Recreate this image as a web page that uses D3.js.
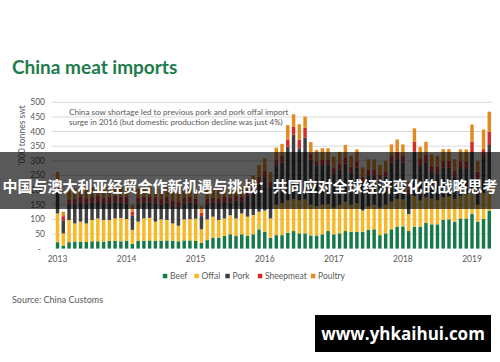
<!DOCTYPE html>
<html>
<head>
<meta charset="utf-8">
<script src="https://cdn.jsdelivr.net/npm/d3@7"></script>
<style>
  body { margin: 0; background: #fff; }
  svg { display: block; }
</style>
</head>
<body>
<div id="chart"></div>
<script>
// monthly imports, '000 tonnes swt, Jan 2013 - Apr 2019
const months = d3.timeMonths(new Date(2013, 0, 1), new Date(2019, 4, 1));
const years = ["2013", "2014", "2015", "2016", "2017", "2018", "2019"];
const seriesNames = ["Beef", "Offal", "Pork", "Sheepmeat", "Poultry"];
const seriesColors = ["#17794a", "#f7b927", "#3f3f3f", "#cf2c2a", "#e28a20"];
const yTicks = [0, 50, 100, 150, 200, 250, 300, 350, 400, 450, 500];

const beef = [22,10,22,24,24,23,25,25,24,26,26,25,27,16,26,27,28,26,27,28,27,25,28,28,
  26,20,29,37,37,43,49,43,49,43,49,66,58,37,46,46,54,60,52,52,45,45,49,60,49,
  52,60,57,57,57,64,66,46,52,66,75,76,60,75,75,88,83,83,98,100,92,103,103,118,92,101,130];
const offal = [98,42,76,62,68,63,73,78,74,72,77,80,74,48,66,76,77,66,73,70,59,53,72,73,
  76,46,71,72,61,60,65,60,71,66,66,60,72,66,104,109,111,110,113,116,105,100,101,92,91,
  98,100,93,98,73,81,84,94,98,94,95,92,58,105,90,87,87,82,77,78,78,77,82,72,58,89,80];
const pork = [84,45,52,65,64,67,58,56,54,57,55,52,53,48,61,53,53,61,50,59,61,65,54,56,
  50,45,53,47,55,57,43,61,40,70,77,97,114,108,135,139,183,220,178,211,154,136,135,133,118,
  121,130,109,122,100,106,101,95,96,134,137,126,68,151,117,120,92,92,101,98,75,95,90,140,90,126,144];
const sheepmeat = [20,14,18,20,20,19,20,21,20,21,22,21,22,15,20,21,21,20,19,20,18,17,19,20,
  18,12,17,18,17,18,17,18,18,20,20,22,22,16,20,22,25,26,30,34,20,18,18,18,18,
  20,22,20,22,16,18,18,17,18,22,24,22,14,34,24,26,22,22,24,24,22,24,24,36,22,24,45];
const poultry = [38,15,32,34,34,33,34,35,33,34,35,34,34,22,32,33,33,32,31,33,30,30,32,33,
  30,22,30,31,30,32,31,33,32,36,38,40,42,35,40,42,49,43,52,38,40,38,40,40,38,
  40,42,38,40,32,36,36,34,36,40,42,40,30,46,42,44,38,38,40,40,38,40,40,58,38,67,69];

const width = 500, height = 362;
const textGrey = "#595959";

const svg = d3.select("#chart").append("svg")
  .attr("width", width).attr("height", height);

// table for the stack
const rows = months.map((m, i) => ({
  month: m, Beef: beef[i], Offal: offal[i], Pork: pork[i],
  Sheepmeat: sheepmeat[i], Poultry: poultry[i]
}));
const stacked = d3.stack().keys(seriesNames)(rows);

const x = d3.scaleBand().domain(d3.range(months.length))
  .range([53.5, 493.3]).padding(0.4);
const y = d3.scaleLinear().domain([0, 500]).range([248.6, 102.3]);
const color = d3.scaleOrdinal().domain(seriesNames).range(seriesColors);

// title
svg.append("text").attr("x", 12).attr("y", 74)
  .attr("font-family", "Lato, 'Open Sans', sans-serif").attr("font-weight", "bold")
  .attr("font-size", 19).attr("fill", "#1e7b4c")
  .text("China meat imports");

// gridlines
svg.append("g").selectAll("line").data(yTicks.filter(d => d > 0)).join("line")
  .attr("x1", 52).attr("x2", 492)
  .attr("y1", d => y(d)).attr("y2", d => y(d))
  .attr("stroke", "#d9d9d9").attr("stroke-width", 1);

// y tick labels, zero shown as a dash
svg.append("g").selectAll("text").data(yTicks).join("text")
  .attr("x", d => d === 0 ? 41 : 45).attr("y", d => y(d) + 3)
  .attr("text-anchor", "end")
  .attr("font-family", "Lato, sans-serif").attr("font-size", 8.5)
  .attr("fill", textGrey)
  .text(d => d === 0 ? "-" : d);

svg.append("text")
  .attr("transform", "translate(25,135) rotate(-90)")
  .attr("text-anchor", "middle")
  .attr("font-family", "Lato, sans-serif").attr("font-size", 8.5)
  .attr("fill", textGrey)
  .text("'000 tonnes swt");

// bars
svg.append("g").selectAll("g").data(stacked).join("g")
  .attr("fill", d => color(d.key))
  .selectAll("rect").data(d => d).join("rect")
  .attr("x", (d, i) => x(i))
  .attr("width", x.bandwidth())
  .attr("y", d => y(d[1]))
  .attr("height", d => y(d[0]) - y(d[1]));

// note
const note = svg.append("text")
  .attr("font-family", "Lato, sans-serif").attr("font-size", 8.1)
  .attr("fill", textGrey);
note.append("tspan").attr("x", 69).attr("y", 114.5)
  .text("China sow shortage led to previous pork and pork offal import");
note.append("tspan").attr("x", 69).attr("y", 124.5)
  .text("surge in 2016 (but domestic production decline was just 4%)");

// year labels under the January bars
svg.append("g").selectAll("text").data(years).join("text")
  .attr("x", (d, i) => x(i * 12) + x.bandwidth() / 2)
  .attr("y", 262)
  .attr("text-anchor", "middle")
  .attr("font-family", "Lato, sans-serif").attr("font-size", 8.5)
  .attr("fill", textGrey)
  .text(d => d);

// legend
const legendX = [165, 196.5, 227.5, 260, 313];
const legend = svg.append("g").selectAll("g").data(seriesNames).join("g")
  .attr("transform", (d, i) => `translate(${legendX[i]},276)`);
legend.append("rect").attr("x", -2.2).attr("y", -2.2)
  .attr("width", 4.5).attr("height", 4.5).attr("fill", d => color(d));
legend.append("text").attr("x", 5).attr("y", 3)
  .attr("font-family", "Lato, sans-serif").attr("font-size", 8.5)
  .attr("fill", textGrey)
  .text(d => d);

svg.append("text").attr("x", 12).attr("y", 303)
  .attr("font-family", "Lato, sans-serif").attr("font-size", 9)
  .attr("fill", textGrey)
  .text("Source: China Customs");

// banner laid over the picture
svg.append("rect").attr("x", 0).attr("y", 152).attr("width", width).attr("height", 57)
  .attr("fill", "#000").attr("fill-opacity", 0.65);
svg.append("text").attr("x", 250).attr("y", 185)
  .attr("text-anchor", "middle").attr("dominant-baseline", "central")
  .attr("font-family", "'Noto Sans CJK SC', sans-serif").attr("font-weight", "bold")
  .attr("font-size", 15).attr("fill", "#fff")
  .text("中国与澳大利亚经贸合作新机遇与挑战：共同应对全球经济变化的战略思考");

// watermark box
svg.append("rect").attr("x", 315).attr("y", 315).attr("width", 176).attr("height", 37)
  .attr("fill", "#000");
svg.append("text").attr("x", 403).attr("y", 340)
  .attr("text-anchor", "middle")
  .attr("font-family", "'Open Sans', sans-serif").attr("font-weight", "bold")
  .attr("font-size", 17).attr("fill", "#fff")
  .text("www.yhkaihui.com");
</script>
</body>
</html>
